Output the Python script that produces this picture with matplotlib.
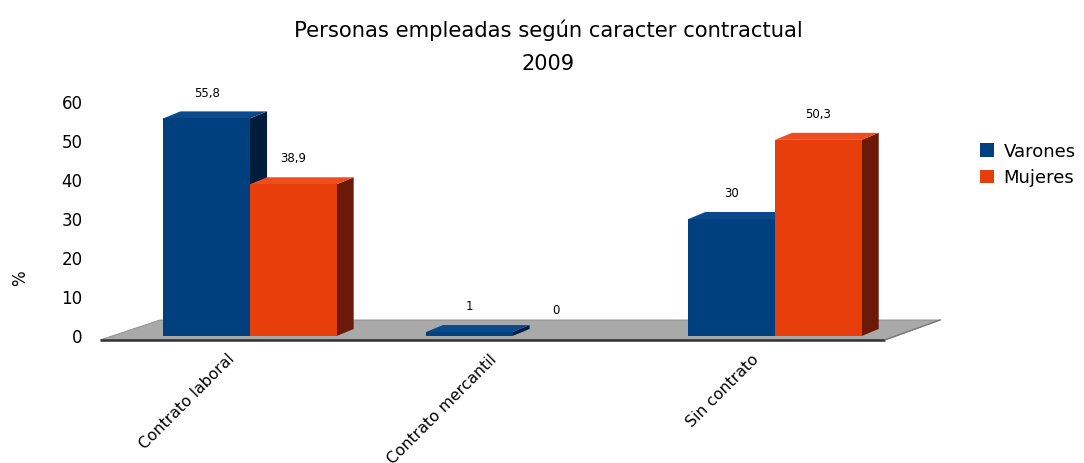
"""Personas empleadas segun caracter contractual, 2009
   pseudo 3D bar chart with a grey floor
"""
import matplotlib
matplotlib.use("Agg")
import matplotlib.pyplot as plt
from matplotlib.patches import Polygon, Patch

plt.rcParams['font.family'] = ['DejaVu Sans']

# ------------
# Data
# ------------
categorias = ["Contrato laboral", "Contrato mercantil", "Sin contrato"]
varones = [55.8, 1, 30]
mujeres = [38.9, 0, 50.3]
etiq_varones = ["55,8", "1", "30"]
etiq_mujeres = ["38,9", "0", "50,3"]
series = ["Varones", "Mujeres"]
y_ticks = [0, 10, 20, 30, 40, 50, 60]

# colours: front, side, top
azul = ("#00407f", "#001c3c", "#0a4a8c")
naranja = ("#e83e0c", "#6b1a08", "#ef4d1e")

# ---------------
# Figure / axes
# ---------------
fig = plt.figure(figsize=(10.84, 4.63), dpi=100)
ax = fig.add_axes([0.0853, 0.2575, 0.7992, 0.539])
ax.set_xlim(-0.6, 2.7)
ax.set_ylim(-2, 62)
for s in ax.spines.values():
    s.set_visible(False)
ax.set_xticks([])
ax.set_yticks(y_ticks)
ax.tick_params(axis='y', length=0, pad=7, labelsize=12)
fig.text(20 / 1084, 1 - 278 / 463, "%", rotation=90, ha='center', va='center',
         fontsize=12)

width = 0.33
dx = 0.065   # depth in x (data units)
dy = 1.8     # depth in y (data units)

# floor
floor = Polygon([(-0.57, -1.0), (-0.343, 4.1), (2.629, 4.1), (2.419, -1.0)],
                closed=True, facecolor="#a9a9a9", edgecolor="#8a8a8a",
                lw=0.6, zorder=1)
ax.add_patch(floor)
ax.plot([-0.57, 2.419], [-1.0, -1.0], color="#333333", lw=1.8, zorder=1.5,
        solid_capstyle='butt')
ax.plot([2.419, 2.629], [-1.0, 4.1], color="#777777", lw=1.0, zorder=1.5)


def bar3d(x0, v, cols, z):
    x1 = x0 + width
    front = Polygon([(x0, 0), (x1, 0), (x1, v), (x0, v)], closed=True,
                    facecolor=cols[0], edgecolor="none", zorder=z)
    side = Polygon([(x1, 0), (x1 + dx, dy), (x1 + dx, v + dy), (x1, v)],
                   closed=True, facecolor=cols[1], edgecolor="none", zorder=z)
    top = Polygon([(x0, v), (x0 + dx, v + dy), (x1 + dx, v + dy), (x1, v)],
                  closed=True, facecolor=cols[2], edgecolor="none", zorder=z)
    for p in (side, top, front):
        ax.add_patch(p)


z = 3
for i in range(len(categorias)):
    xv = i - width
    xm = i
    if varones[i] > 0:
        bar3d(xv, varones[i], azul, z)
    z += 1
    if mujeres[i] > 0:
        bar3d(xm, mujeres[i], naranja, z)
    z += 1
    ax.text(xv + width / 2, varones[i] + 6.5, etiq_varones[i],
            ha='center', va='center', fontsize=8.5)
    ax.text(xm + width / 2, mujeres[i] + 6.5, etiq_mujeres[i],
            ha='center', va='center', fontsize=8.5)
    ax.text(i - 0.09, -4.0, categorias[i], rotation=45, rotation_mode='anchor',
            ha='right', va='top', fontsize=11.3)

# title
fig.text(0.506, 0.935, "Personas empleadas según caracter contractual",
         ha='center', va='center', fontsize=15.2)
fig.text(0.506, 0.862, "2009", ha='center', va='center', fontsize=15)

# legend
handles = [Patch(facecolor=azul[0], label=series[0]),
           Patch(facecolor=naranja[0], label=series[1])]
fig.legend(handles=handles, loc='upper left', bbox_to_anchor=(0.889, 0.727),
           frameon=False, fontsize=13, handlelength=0.8, handleheight=0.8,
           handletextpad=0.5, labelspacing=0.45)

fig.savefig("out.png", dpi=100)
